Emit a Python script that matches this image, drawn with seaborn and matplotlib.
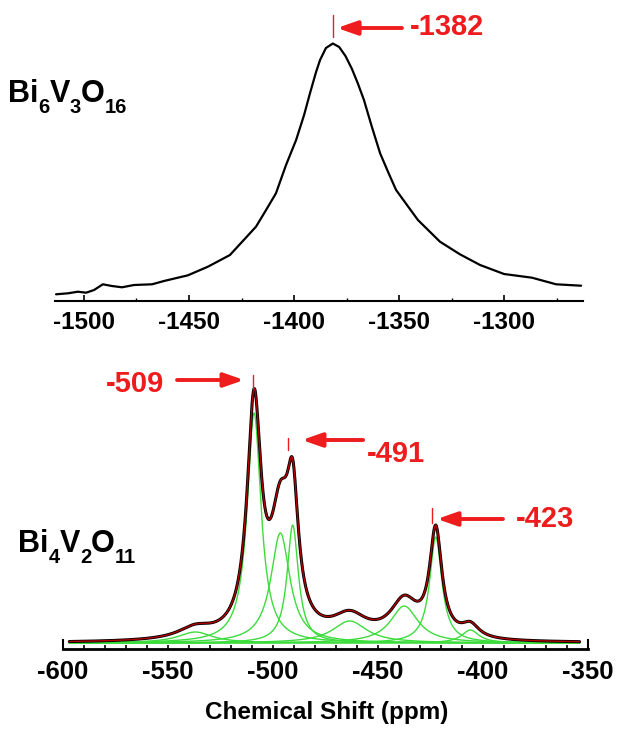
import numpy as np
import seaborn as sns
import matplotlib.pyplot as plt

# Bi6V3O16 trace (ppm, intensity)
top_ppm = [-1513.3, -1507.6, -1502.9, -1499.0, -1495.2, -1491.0, -1486.7, -1481.9,
           -1476.2, -1467.6, -1461.9, -1450.5, -1441.0, -1430.5, -1418.1, -1413.3,
           -1408.6, -1403.8, -1399.0, -1395.2, -1392.4, -1389.5, -1387.6, -1384.8,
           -1381.5, -1378.5, -1375.5, -1372.4, -1369.5, -1366.7, -1362.9, -1359.0,
           -1355.2, -1351.4, -1341.0, -1330.5, -1321.0, -1311.4, -1300.0, -1286.7,
           -1275.2, -1263.3]
top_int = [6.7, 7.7, 9.3, 8.3, 11, 16.7, 15, 13.7,
           16, 16.7, 20, 25.7, 34.3, 46, 74.3, 91,
           107.7, 136, 161, 186, 207.7, 229, 241, 253,
           257.5, 254, 245, 232, 217, 201, 174, 147.7,
           129, 111, 81, 59.3, 46.7, 36, 27, 23.3,
           16.7, 15.3]

# Bi4V2O11 fit components (centre ppm, height, fwhm ppm)
comp_center = [-537, -509, -496.5, -490.6, -463.5, -437.5, -422.5, -406]
comp_height = [11, 230, 110, 118, 22, 37, 106, 13]
comp_fwhm = [20, 8, 11, 6.5, 20, 16, 7, 10]

top_ticks = [-1500, -1450, -1400, -1350, -1300]
bottom_ticks = [-600, -550, -500, -450, -400, -350]
top_label = '-1382'
bottom_labels = ['-509', '-491', '-423']
formula_top = [('Bi', 0), ('6', 1), ('V', 0), ('3', 1), ('O', 0), ('16', 1)]
formula_bottom = [('Bi', 0), ('4', 1), ('V', 0), ('2', 1), ('O', 0), ('11', 1)]

RED = '#ee1c1c'
GREEN = '#3cdc3c'
W, H = 625, 733

sns.set_style('white')
plt.rcParams['font.family'] = ['Liberation Sans', 'DejaVu Sans']
plt.rcParams['font.weight'] = 'bold'
plt.rcParams['axes.unicode_minus'] = False
plt.rcParams['text.color'] = 'black'
plt.rcParams['xtick.color'] = 'black'
plt.rcParams['xtick.labelcolor'] = 'black'
plt.rcParams['axes.edgecolor'] = 'black'

fig = plt.figure(figsize=(W / 100, H / 100), dpi=100)
renderer = fig.canvas.get_renderer()


def px_axes(l, t, r, b):
    return fig.add_axes([l / W, 1 - b / H, (r - l) / W, (b - t) / H])


def mark(ax, xt, yt0, yt1, x_tail, x_tip, ya, text, xtext, ytext):
    ax.plot([xt, xt], [yt0, yt1], color=RED, lw=1)
    ax.annotate('', xy=(x_tip, ya), xytext=(x_tail, ya),
                arrowprops=dict(arrowstyle='-|>,head_length=1.2,head_width=0.42',
                                mutation_scale=10, color=RED, lw=2.8,
                                shrinkA=0, shrinkB=0))
    ax.text(xtext, ytext, text, color=RED, fontsize=21, fontweight='bold',
            ha='left', va='baseline')


def formula(x, y, parts):
    # x, y in pixels from top-left, y is the main baseline
    for txt, sub in parts:
        if sub:
            t = fig.text(x / W, 1 - (y + 11) / H, txt, fontsize=14.5,
                         fontweight='bold', va='baseline', color='black')
        else:
            t = fig.text(x / W, 1 - y / H, txt, fontsize=22,
                         fontweight='bold', va='baseline', color='black')
        x += t.get_window_extent(renderer).width


# top panel
ax1 = px_axes(55, 0, 583, 301)
sns.lineplot(x=top_ppm, y=top_int, ax=ax1, color='black', lw=1.6,
             sort=False, estimator=None)
ax1.set_xlim(-1513.8, -1262.4)
ax1.set_ylim(0, 301)
ax1.set_xticks(top_ticks)
ax1.set_xticklabels([str(t) for t in top_ticks])
ax1.set_xticks([-1475, -1425, -1375, -1325, -1275], minor=True)
ax1.tick_params(axis='x', which='major', direction='in', length=4.5, width=1.2,
                labelsize=17.5, pad=7, bottom=True, color='black', labelcolor='black')
ax1.tick_params(axis='x', which='minor', direction='in', length=2.5, width=1,
                bottom=True, color='black')
ax1.set_yticks([])
ax1.set_xlabel('')
for s in ['top', 'left', 'right']:
    ax1.spines[s].set_visible(False)
ax1.spines['bottom'].set_linewidth(1.5)
ax1.spines['bottom'].set_color('black')
mark(ax1, -1381.4, 264, 286, -1348.6, -1379.5, 273, top_label, -1344.8, 266)

# bottom panel
ax2 = px_axes(63, 360, 588, 649)
ppm = np.linspace(-597, -354, 1500)
total = np.zeros_like(ppm)
for c, h, w in zip(comp_center, comp_height, comp_fwhm):
    comp = h / (1 + ((ppm - c) / (w / 2)) ** 2)
    total += comp
    sns.lineplot(x=ppm, y=comp, ax=ax2, color=GREEN, lw=1)
sns.lineplot(x=ppm, y=total, ax=ax2, color='black', lw=2.2)
sns.lineplot(x=ppm, y=total, ax=ax2, color='#b00000', lw=1)
ax2.set_xlim(-600, -350)
ax2.set_ylim(-6, 283)
ax2.set_xticks(bottom_ticks)
ax2.set_xticklabels([str(t) for t in bottom_ticks])
ax2.set_xticks([t for t in range(-590, -350, 10) if t % 50], minor=True)
ax2.tick_params(axis='x', which='both', direction='in', length=2.6, width=1.2,
                labelsize=18.5, pad=8, bottom=True, color='black', labelcolor='black')
ax2.set_yticks([])
ax2.set_xlabel('')
ax2.spines['top'].set_visible(False)
for s in ['left', 'right']:
    ax2.spines[s].set_bounds(-6, 3)
    ax2.spines[s].set_linewidth(1.5)
    ax2.spines[s].set_color('black')
ax2.spines['bottom'].set_linewidth(2)
ax2.spines['bottom'].set_color('black')

mark(ax2, -509.5, 255, 268, -545.7, -513.8, 263, bottom_labels[0], -579.5, 251)
mark(ax2, -493.0, 193, 205, -457.1, -486.2, 203, bottom_labels[1], -455.5, 181)
mark(ax2, -424.3, 120, 135, -390.5, -421.9, 124, bottom_labels[2], -384.5, 116)

formula(8, 102, formula_top)
formula(18, 552, formula_bottom)
fig.text(327 / W, 1 - 712 / H, 'Chemical Shift (ppm)', fontsize=17.5,
         fontweight='bold', ha='center', va='center', color='black')

fig.savefig('out.png', dpi=100)
